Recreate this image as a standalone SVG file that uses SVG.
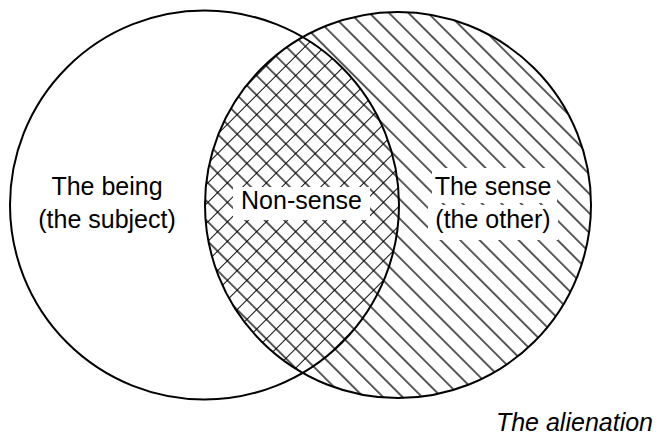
<svg xmlns="http://www.w3.org/2000/svg" width="659" height="436" viewBox="0 0 659 436">
  <style>
    .ring { fill: none; stroke: #000; stroke-width: 2; }
    .lbl { font-family: "Liberation Sans", Arial, sans-serif; font-size: 25px; fill: #000; text-anchor: middle; }
    .cap { font-family: "Liberation Sans", Arial, sans-serif; font-size: 25px; font-style: italic; fill: #000; text-anchor: end; }
    .halo { fill: #fff; stroke: none; }
  </style>
  <defs>
    <pattern id="hatchBack" patternUnits="userSpaceOnUse" width="20" height="13.79" patternTransform="rotate(45)">
      <rect width="20" height="13.79" fill="#fff"/>
      <line x1="-1" y1="9.9" x2="21" y2="9.9" stroke="#000" stroke-width="1.3"/>
    </pattern>
    <pattern id="hatchFwd" patternUnits="userSpaceOnUse" width="20" height="13.79" patternTransform="rotate(-45)">
      <line x1="-1" y1="0.3" x2="21" y2="0.3" stroke="#000" stroke-width="1.3"/>
    </pattern>
    <clipPath id="clipLeft">
      <circle cx="204.5" cy="205" r="194.5"/>
    </clipPath>
  </defs>

  <g id="fills">
    <circle cx="398" cy="205" r="193" fill="url(#hatchBack)"/>
    <g clip-path="url(#clipLeft)">
      <circle cx="398" cy="205" r="193" fill="url(#hatchFwd)"/>
    </g>
  </g>

  <g id="left-set">
    <circle class="ring" cx="204.5" cy="205" r="194.5"/>
    <text class="lbl" x="107" y="195">The being</text>
    <text class="lbl" x="107" y="228">(the subject)</text>
  </g>

  <g id="right-set">
    <circle class="ring" cx="398" cy="205" r="193"/>
    <rect class="halo" x="432" y="168" width="125" height="35"/>
    <rect class="halo" x="428" y="205" width="130" height="35"/>
    <text class="lbl" x="493" y="195">The sense</text>
    <text class="lbl" x="493" y="228">(the other)</text>
  </g>

  <g id="intersection">
    <rect class="halo" x="233" y="187" width="137" height="33"/>
    <text class="lbl" x="301.5" y="209">Non-sense</text>
  </g>

  <g id="caption">
    <text class="cap" x="653" y="431">The alienation</text>
  </g>
</svg>
